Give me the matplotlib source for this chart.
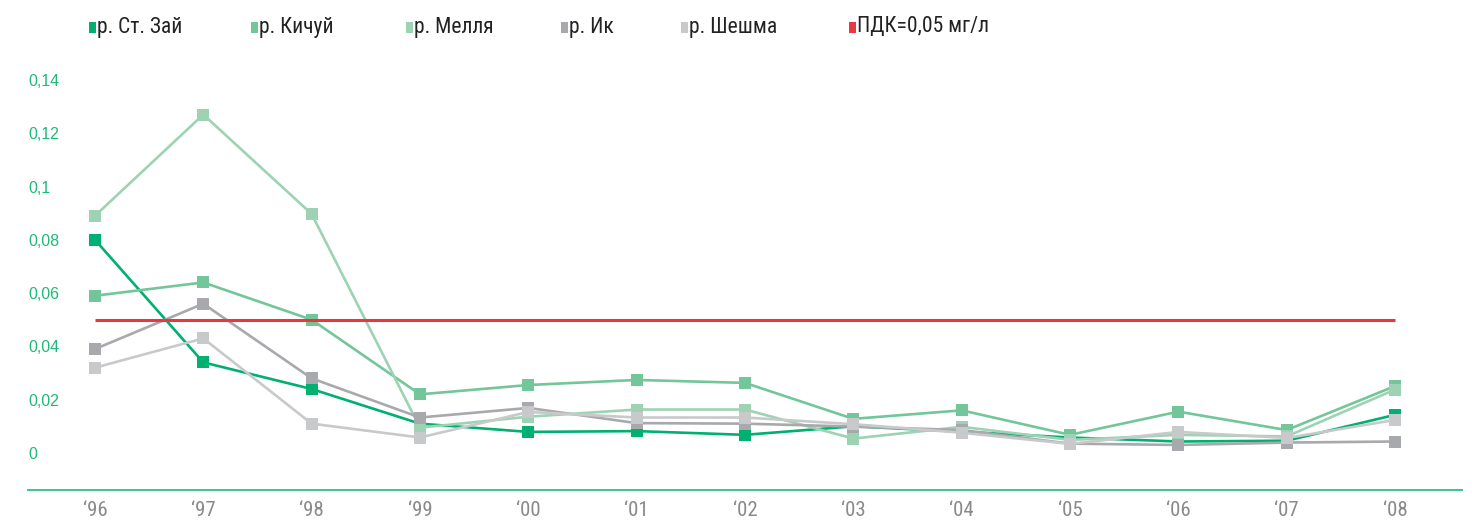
import matplotlib
matplotlib.use("Agg")
import matplotlib.pyplot as plt
from matplotlib import font_manager
from matplotlib.patches import Rectangle

years = ["96", "97", "98", "99", "00", "01", "02", "03", "04", "05", "06", "07", "08"]
st_zai = [0.080, 0.034, 0.024, 0.011, 0.0079, 0.0082, 0.0068, 0.010, 0.008, 0.0058, 0.0043, 0.0046, 0.0143]
kichui = [0.059, 0.064, 0.050, 0.022, 0.0255, 0.0274, 0.0263, 0.0128, 0.0160, 0.0068, 0.0155, 0.0086, 0.0251]
mellya = [0.089, 0.127, 0.0897, 0.0095, 0.0136, 0.0163, 0.0163, 0.0054, 0.0098, 0.0049, 0.0068, 0.0062, 0.0238]
ik = [0.039, 0.056, 0.028, 0.0133, 0.0169, 0.0112, 0.0110, 0.0099, 0.0086, 0.0035, 0.0030, 0.0039, 0.0043]
sheshma = [0.032, 0.043, 0.011, 0.0058, 0.0154, 0.0133, 0.0133, 0.0108, 0.0076, 0.0034, 0.0079, 0.0056, 0.0124]
pdk = 0.05

series_names = ["р. Ст. Зай", "р. Кичуй", "р. Мелля", "р. Ик", "р. Шешма"]
series_vals = [st_zai, kichui, mellya, ik, sheshma]
series_colors = ["#00b070", "#72c69a", "#9dd3b2", "#a8a9ad", "#c8c9cb"]
pdk_label = "ПДК=0,05 мг/л"
pdk_color = "#e8383d"

yticks = [0, 0.02, 0.04, 0.06, 0.08, 0.1, 0.12, 0.14]
ytick_labels = ["0", "0,02", "0,04", "0,06", "0,08", "0,1", "0,12", "0,14"]

available = {f.name for f in font_manager.fontManager.ttflist}
narrow = next((f for f in ["Liberation Sans Narrow", "Roboto Condensed", "Open Sans Condensed",
                           "Liberation Sans"] if f in available), "DejaVu Sans")
regular = "Liberation Sans" if "Liberation Sans" in available else "DejaVu Sans"

W, H = 1472, 521
fig = plt.figure(figsize=(W / 100, H / 100), dpi=100)
left_px, right_px = 28, 1462
bottom_px, top_px = 490, 66.6
ax = fig.add_axes([left_px / W, 1 - bottom_px / H, (right_px - left_px) / W, (bottom_px - top_px) / H])

x = list(range(len(years)))
for name, vals, col in zip(series_names, series_vals, series_colors):
    ax.plot(x, vals, color=col, lw=1.9, marker="s", markersize=8.8, markeredgewidth=0, zorder=2)

ax.hlines(pdk, 0, len(years) - 1, color=pdk_color, lw=2.2, zorder=3)

ax.set_xlim(-0.618, len(years) - 1 + 0.618)
ax.set_ylim(-0.0139, 0.145)

for s in ["top", "right", "left"]:
    ax.spines[s].set_visible(False)
ax.spines["bottom"].set_color("#3cc48e")
ax.spines["bottom"].set_linewidth(1.4)

ax.set_xticks(x)
ax.set_xticklabels(["\u2018" + y for y in years], family=[narrow, "DejaVu Sans"], fontsize=15, color="#8a8a8a")
ax.tick_params(axis="x", length=0, pad=8)

ax.set_yticks(yticks)
ax.set_yticklabels(ytick_labels, family=[regular, "DejaVu Sans"], fontsize=11.5, color="#20b878")
ax.tick_params(axis="y", length=0, pad=0)
for lab in ax.get_yticklabels():
    lab.set_horizontalalignment("left")

# legend
leg_x = [89, 251, 406, 561, 681, 849]
leg_names = series_names + [pdk_label]
leg_colors = series_colors + [pdk_color]
for lx, nm, col in zip(leg_x, leg_names, leg_colors):
    fig.add_artist(Rectangle((lx / W, 1 - 33 / H), 7 / W, 11 / H, transform=fig.transFigure,
                             facecolor=col, edgecolor="none"))
    fig.text((lx + 8) / W, 1 - 27 / H, nm, family=[narrow, "DejaVu Sans"], fontsize=15.5,
             color="#222222", va="center", ha="left")

fig.savefig("out.png", dpi=100)
